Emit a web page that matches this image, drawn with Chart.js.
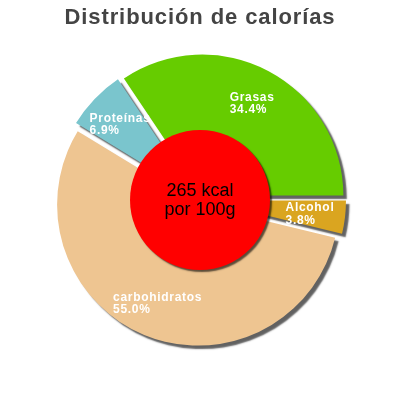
<!doctype html>
<html lang="es">
  <head>
    <meta charset="utf-8">
    <title>Distribución de calorías</title>
    <style>
      html, body { margin: 0; padding: 0; background: #fff; }
      canvas { display: block; }
    </style>
  </head>
  <body>
    <canvas id="chart" width="400" height="400"></canvas>
  </body>
</html>
<script src="https://cdn.jsdelivr.net/npm/chart.js"></script>
<script>
const categories = ['Grasas', 'Alcohol', 'carbohidratos', 'Proteínas'];
const shares = [34.4, 3.8, 55.0, 6.9];
const sliceColors = ['#66CC00', '#DAA520', '#EEC591', '#7AC5CD'];
const centerLines = ['265 kcal', 'por 100g'];

const FONT = "'Liberation Sans', Arial, sans-serif";
const EXPLODE = 5;       // px each slice is pulled out
const CENTER_R = 70;     // red disc in the middle

function withShadow(ctx, dx, dy) {
    ctx.shadowColor = 'rgba(0,0,0,0.62)';
    ctx.shadowOffsetX = dx;
    ctx.shadowOffsetY = dy;
    ctx.shadowBlur = 1.5;
}

// title letter spacing
const spacing = {
    id: 'spacing',
    beforeDraw(chart) { chart.ctx.letterSpacing = '0.9px'; },
    beforeDatasetsDraw(chart) { chart.ctx.letterSpacing = '0px'; }
};

// pulled out slices with a drop shadow
const exploded = {
    id: 'exploded',
    beforeDatasetDraw(chart, args) {
        const ctx = chart.ctx;
        args.meta.data.forEach(arc => {
            const mid = (arc.startAngle + arc.endAngle) / 2;
            ctx.save();
            withShadow(ctx, 3.5, 3.5);
            ctx.translate(Math.cos(mid) * EXPLODE, Math.sin(mid) * EXPLODE);
            arc.draw(ctx);
            ctx.restore();
        });
        return false;
    },
    afterDatasetsDraw(chart) {
        const ctx = chart.ctx;
        const arcs = chart.getDatasetMeta(0).data;
        const cx = arcs[0].x, cy = arcs[0].y;

        // centre disc
        ctx.save();
        withShadow(ctx, 2, 2);
        ctx.fillStyle = '#FF0000';
        ctx.beginPath();
        ctx.arc(cx, cy, CENTER_R, 0, Math.PI * 2);
        ctx.fill();
        ctx.restore();

        ctx.save();
        ctx.fillStyle = '#000';
        ctx.font = '18px ' + FONT;
        ctx.textAlign = 'center';
        ctx.textBaseline = 'alphabetic';
        ctx.fillText(centerLines[0], cx, cy - 4);
        ctx.fillText(centerLines[1], cx, cy + 15);
        ctx.restore();

        // slice labels
        ctx.save();
        ctx.fillStyle = '#fff';
        ctx.font = 'bold 12px ' + FONT;
        ctx.letterSpacing = '0.7px';
        ctx.textAlign = 'left';
        ctx.textBaseline = 'alphabetic';
        arcs.forEach((arc, i) => {
            const mid = (arc.startAngle + arc.endAngle) / 2;
            const r = EXPLODE + arc.outerRadius * 0.75;
            const lx = cx + Math.cos(mid) * r;
            const ly = cy + Math.sin(mid) * r;
            const l1 = categories[i];
            const l2 = shares[i].toFixed(1) + '%';
            const w = Math.max(ctx.measureText(l1).width, ctx.measureText(l2).width);
            ctx.fillText(l1, lx - w / 2, ly - 1.75);
            ctx.fillText(l2, lx - w / 2, ly + 10.75);
        });
        ctx.restore();
    }
};

new Chart(document.getElementById('chart'), {
    type: 'pie',
    data: {
        labels: categories,
        datasets: [{
            data: shares,
            backgroundColor: sliceColors,
            borderWidth: 0
        }]
    },
    options: {
        responsive: false,
        animation: false,
        events: [],
        rotation: -33.8,
        radius: 141,
        layout: { padding: { bottom: 46.4 } },
        plugins: {
            legend: { display: false },
            tooltip: { enabled: false },
            title: {
                display: true,
                text: 'Distribución de calorías',
                color: '#444444',
                font: { family: FONT, size: 22, weight: 'bold' },
                padding: { top: 5, bottom: 15 }
            }
        }
    },
    plugins: [spacing, exploded]
});
</script>
